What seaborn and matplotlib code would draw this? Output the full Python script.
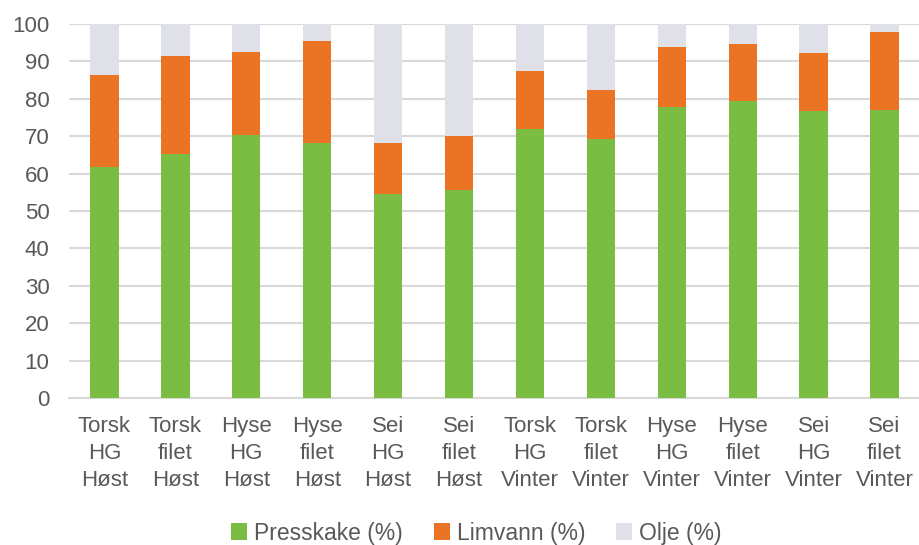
import matplotlib
matplotlib.use("Agg")
import matplotlib.pyplot as plt
import seaborn as sns
import pandas as pd
import numpy as np
from matplotlib.patches import Patch

categories = ["Torsk\nHG\nHøst", "Torsk\nfilet\nHøst", "Hyse\nHG\nHøst", "Hyse\nfilet\nHøst",
              "Sei\nHG\nHøst", "Sei\nfilet\nHøst", "Torsk\nHG\nVinter", "Torsk\nfilet\nVinter",
              "Hyse\nHG\nVinter", "Hyse\nfilet\nVinter", "Sei\nHG\nVinter", "Sei\nfilet\nVinter"]
presskake = [61.7, 65.2, 70.2, 68.1, 54.5, 55.5, 71.9, 69.3, 77.8, 79.4, 76.7, 76.9]
limvann = [24.7, 26.2, 22.3, 27.4, 13.6, 14.5, 15.6, 13.1, 16.0, 15.2, 15.5, 20.9]
olje = [13.6, 8.6, 7.5, 4.5, 31.9, 30.0, 12.5, 17.6, 6.2, 5.4, 7.8, 2.2]
series = ["Presskake (%)", "Limvann (%)", "Olje (%)"]
yticks = [0, 10, 20, 30, 40, 50, 60, 70, 80, 90, 100]

colors = ["#7BBD42", "#EB7424", "#E0E0E8"]

sns.set_theme(style="white")
plt.rcParams['font.family'] = ['Liberation Sans', 'DejaVu Sans']

fig = plt.figure(figsize=(9.2, 5.45), dpi=100)
ax = fig.add_axes([69/920, 1-398/545, (920-69)/920, (398-24)/545])

p = np.array(presskake)
l = np.array(limvann)
o = np.array(olje)
layers = [p + l + o, p + l, p]
layer_colors = [colors[2], colors[1], colors[0]]
for vals, c in zip(layers, layer_colors):
    df = pd.DataFrame({"cat": categories, "val": vals})
    sns.barplot(data=df, x="cat", y="val", color=c, width=0.4, ax=ax,
                saturation=1, edgecolor="none", linewidth=0, zorder=3)

ax.set_xlim(-0.5, len(categories) - 0.5)
ax.set_ylim(0, 100)
ax.set_yticks(yticks)
ax.yaxis.grid(True, color="#D9D9D9", linewidth=1.5, zorder=0)
ax.set_axisbelow(True)
for s in ["top", "right", "left"]:
    ax.spines[s].set_visible(False)
ax.spines["bottom"].set_color("#D9D9D9")
ax.spines["bottom"].set_linewidth(1.5)
ax.set_xlabel("")
ax.set_ylabel("")
ax.tick_params(axis="both", length=0, labelsize=16, colors="#595959")
ax.tick_params(axis="y", pad=14)
ax.tick_params(axis="x", pad=13)
for t in ax.get_xticklabels():
    t.set_linespacing(1.38)

handles = [Patch(facecolor=c, edgecolor="none") for c in colors]
fig.legend(handles, series, loc="lower center", bbox_to_anchor=(0.518, -0.037), ncol=3,
           frameon=False, fontsize=16.5, handlelength=0.7, handleheight=0.7,
           handletextpad=0.3, columnspacing=1.35, labelcolor="#595959")

fig.savefig("out.png", dpi=100)
